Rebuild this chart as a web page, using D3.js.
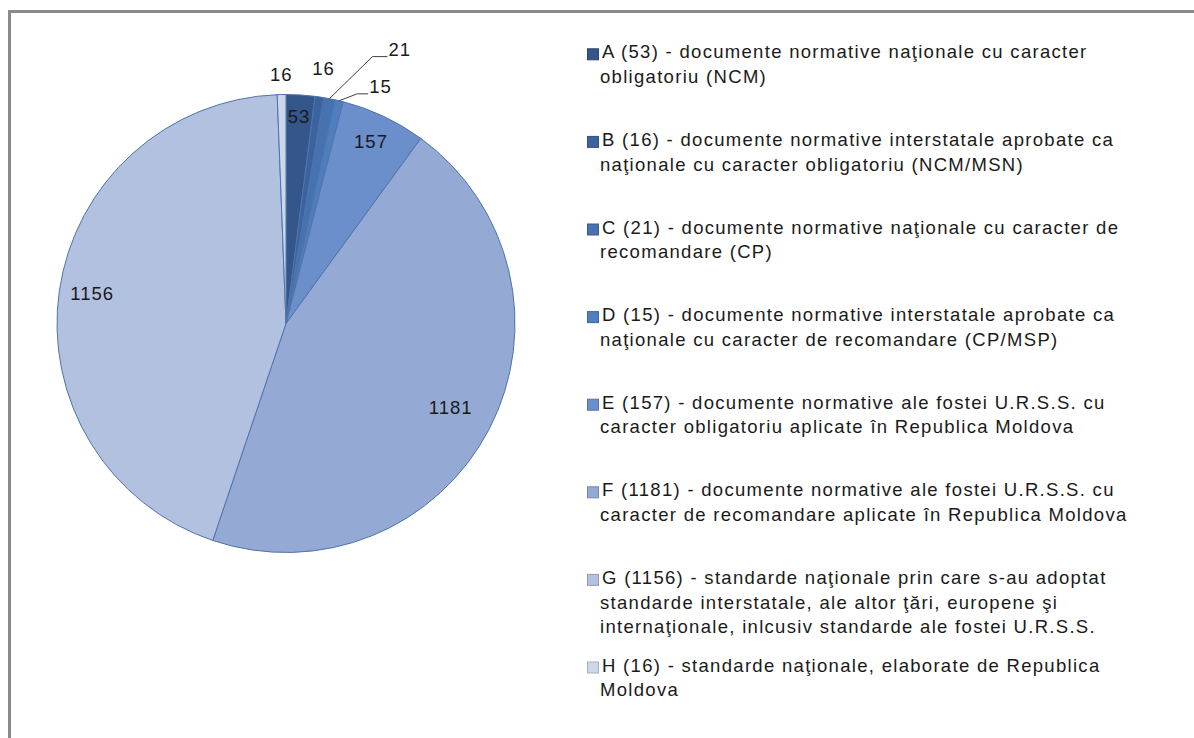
<!DOCTYPE html>
<html>
<head>
<meta charset="utf-8">
<script src="https://cdn.jsdelivr.net/npm/d3@7"></script>
<style>
  body { margin: 0; background: #fff; }
  svg { display: block; font-family: "Liberation Sans", Arial, sans-serif; }
</style>
</head>
<body>
<div id="chart"></div>
<script>
// data
var categories = ["A", "B", "C", "D", "E", "F", "G", "H"];
var values = [53, 16, 21, 15, 157, 1181, 1156, 16];
var colors = ["#35568a", "#3d62a0", "#4672b0", "#4e7ebd", "#6a8fca", "#94aad4", "#b1c1df", "#ccd7ec"];
var legendLines = [
    ["A (53) - documente normative naţionale cu caracter", "obligatoriu (NCM)"],
    ["B (16) - documente normative interstatale aprobate ca", "naţionale cu caracter obligatoriu (NCM/MSN)"],
    ["C (21) - documente normative naţionale cu caracter de", "recomandare (CP)"],
    ["D (15) - documente normative interstatale aprobate ca", "naţionale cu caracter de recomandare (CP/MSP)"],
    ["E (157) - documente normative ale fostei U.R.S.S. cu", "caracter obligatoriu aplicate în Republica Moldova"],
    ["F (1181) - documente normative ale fostei U.R.S.S. cu", "caracter de recomandare aplicate în Republica Moldova"],
    ["G (1156) - standarde naţionale prin care s-au adoptat", "standarde interstatale, ale altor ţări, europene şi", "internaţionale, inlcusiv standarde ale fostei U.R.S.S."],
    ["H (16) - standarde naţionale, elaborate de Republica", "Moldova"]
];

var width = 1194, height = 738;
var cx = 286, cy = 323.5, radius = 229;

// how each slice label is placed: inside (radius factor) or outside (with optional leader)
var labelStyle = [
    { r: 0.90 },
    { r: 1.12 },
    { leader: { r: 1.225, da: 7, len: 15 } },
    { leader: { r: 1.05, da: 3.8, len: 11 } },
    { r: 0.87 },
    { r: 0.81 },
    { r: 0.855 },
    { r: 1.08 }
];

var svg = d3.select("#chart").append("svg")
    .attr("width", width)
    .attr("height", height);

// chart border (only top and left visible)
svg.append("rect")
    .attr("x", 9.5).attr("y", 11.5)
    .attr("width", width + 20).attr("height", height + 20)
    .attr("fill", "none")
    .attr("stroke", "#8a8a8a")
    .attr("stroke-width", 3);

var pie = d3.pie().sort(null).value(d => d);
var arcs = pie(values);
var arc = d3.arc().innerRadius(0).outerRadius(radius);

var g = svg.append("g").attr("transform", "translate(" + cx + "," + cy + ")");

g.selectAll(".slice")
    .data(arcs)
    .enter()
    .append("path")
    .attr("class", "slice")
    .attr("d", arc)
    .attr("fill", (d, i) => colors[i])
    .attr("stroke", "#4f74aa")
    .attr("stroke-width", 1);

function polar(angle, r) {
    return [Math.sin(angle) * r, -Math.cos(angle) * r];
}

arcs.forEach((d, i) => {
    var mid = (d.startAngle + d.endAngle) / 2;
    var st = labelStyle[i];
    if (st.leader) {
        var p0 = polar(mid, radius);
        var p1 = polar(mid + st.leader.da * Math.PI / 180, radius * st.leader.r);
        var p2 = [p1[0] + st.leader.len, p1[1]];
        g.append("polyline")
            .attr("points", [p0, p1, p2].map(p => p.join(",")).join(" "))
            .attr("fill", "none")
            .attr("stroke", "#404040")
            .attr("stroke-width", 1);
        g.append("text")
            .attr("x", p2[0] + 1)
            .attr("y", p2[1] - 6)
            .attr("dominant-baseline", "middle")
            .attr("font-size", 18.5)
            .attr("letter-spacing", 1)
            .attr("fill", "#1a1a1a")
            .text(values[i]);
    } else {
        var p = polar(mid, radius * st.r);
        g.append("text")
            .attr("x", p[0])
            .attr("y", p[1])
            .attr("text-anchor", "middle")
            .attr("dominant-baseline", "middle")
            .attr("font-size", 18.5)
            .attr("letter-spacing", 1)
            .attr("fill", "#1a1a1a")
            .text(values[i]);
    }
});

// legend
var legend = svg.append("g").attr("transform", "translate(587,0)");
var entryStep = 87.6, lineStep = 24.6, firstBase = 58.3;

categories.forEach((c, i) => {
    var base = firstBase + i * entryStep;
    legend.append("rect")
        .attr("x", 0.5).attr("y", base - 9.5)
        .attr("width", 11).attr("height", 11)
        .attr("fill", colors[i])
        .attr("stroke", d3.color(colors[i]).darker(0.6))
        .attr("stroke-width", 1);
    var t = legend.append("text")
        .attr("x", 15)
        .attr("y", base)
        .attr("font-size", 18.5)
        .attr("letter-spacing", 1.3)
        .attr("fill", "#1a1a1a");
    legendLines[i].forEach((line, j) => {
        t.append("tspan")
            .attr("x", j == 0 ? 15 : 13)
            .attr("y", base + j * lineStep)
            .text(line);
    });
});
</script>
</body>
</html>
